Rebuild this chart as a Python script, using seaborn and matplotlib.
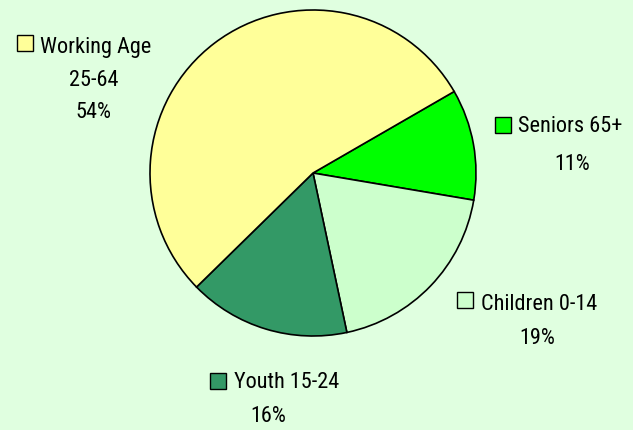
import matplotlib
matplotlib.use("Agg")
import matplotlib.pyplot as plt
import seaborn as sns
from matplotlib.patches import Rectangle
from matplotlib import font_manager

sns.set_style("white")

categories = ["Seniors 65+", "Children 0-14", "Youth 15-24", "Working Age 25-64"]
values = [11, 19, 16, 54]
pct_labels = ["11%", "19%", "16%", "54%"]
colors = ["#00FF00", "#CCFFCC", "#339966", "#FFFF99"]

names = {f.name for f in font_manager.fontManager.ttflist}
cands = ["Liberation Sans Narrow", "Arial Narrow", "Roboto Condensed", "PT Sans Narrow",
         "Archivo Narrow", "Open Sans Condensed", "Barlow Semi Condensed", "Liberation Sans"]
fam = next(c for c in cands if c in names)
plt.rcParams["font.family"] = [fam, "DejaVu Sans"]

W, H = 633, 430
bg = "#E0FFE0"
fig = plt.figure(figsize=(W / 100, H / 100), dpi=100, facecolor=bg)
ax = fig.add_axes([0, 0, 1, 1])
ax.set_facecolor(bg)

wedges, _ = ax.pie(values, colors=colors, startangle=-30, counterclock=True,
                   center=(313, 173), radius=163,
                   wedgeprops=dict(edgecolor="black", linewidth=1.2))
ax.set_xlim(0, W)
ax.set_ylim(H, 0)
ax.set_aspect("equal")
ax.axis("off")

fs = 16
layout = {
    "Working Age 25-64": dict(sq=(17, 35), tx=(40, 47), extra=("25-64", 94, 81), pct=(93, 113)),
    "Seniors 65+": dict(sq=(495, 117), tx=(518, 127), extra=None, pct=(572, 164)),
    "Children 0-14": dict(sq=(457, 292), tx=(481, 304), extra=None, pct=(537, 339)),
    "Youth 15-24": dict(sq=(210, 373), tx=(234, 383), extra=None, pct=(268, 417)),
}
for cat, col, pct in zip(categories, colors, pct_labels):
    L = layout[cat]
    ax.add_patch(Rectangle(L["sq"], 16, 16, facecolor=col, edgecolor="black",
                           linewidth=1.0, zorder=5, clip_on=False))
    name = cat if cat != "Working Age 25-64" else "Working Age"
    ax.text(L["tx"][0], L["tx"][1], name, fontsize=fs, ha="left", va="center", color="black")
    if L["extra"]:
        t, x, y = L["extra"]
        ax.text(x, y, t, fontsize=fs, ha="center", va="center", color="black")
    ax.text(L["pct"][0], L["pct"][1], pct, fontsize=fs, ha="center", va="center", color="black")

fig.savefig("out.png", dpi=100, facecolor=bg)
